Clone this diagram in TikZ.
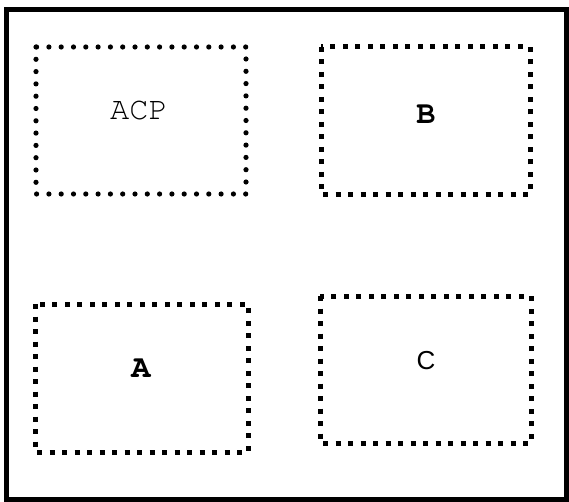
\documentclass[tikz,border=0pt]{standalone}
\usepackage{fontspec}
\setmonofont{TeX Gyre Cursor}
\setsansfont{Liberation Sans}
\begin{document}
\begin{tikzpicture}[x=1pt,y=-1pt,
  frame/.style={draw=black,line width=5pt},
  roundbox/.style={draw=black,line width=5.2pt,line cap=round,dash pattern=on 0pt off 12.3pt},
  squarebox/.style={draw=black,line width=5pt,line cap=butt,dash pattern=on 5pt off 7.5pt},
  lbl/.style={inner sep=0pt,anchor=center}]
\useasboundingbox (0,0) rectangle (569,502);
\draw[frame] (6.5,10) rectangle (566.5,499.5);
\draw[roundbox] (36,47) rectangle (246,194);
\draw[squarebox] (321,47) rectangle (530,195);
\draw[squarebox] (35,304) rectangle (248,452);
\draw[squarebox] (320,296) rectangle (531,443);
\node[lbl] (acp) at (139,111) {\ttfamily\fontsize{32}{32}\selectfont ACP};
\node[lbl] (b) at (426,114) {\ttfamily\bfseries\fontsize{32}{32}\selectfont B};
\node[lbl] (a) at (141,368) {\ttfamily\bfseries\fontsize{32}{32}\selectfont A};
\node[lbl] (c) at (426,361) {\sffamily\fontsize{26}{26}\selectfont C};
\end{tikzpicture}
\end{document}
